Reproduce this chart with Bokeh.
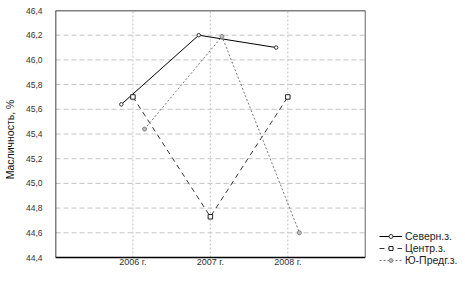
from bokeh.plotting import figure
from bokeh.models import FixedTicker, Legend, LegendItem, Range1d
from bokeh.embed import file_html
from bokeh.resources import INLINE

years = ["2006 г.", "2007 г.", "2008 г."]
series_names = ["Северн.з.", "Центр.з.", "Ю-Предг.з."]
sever = [45.64, 46.20, 46.10]
centr = [45.70, 44.73, 45.70]
yupred = [45.44, 46.19, 44.60]
y_ticks = [44.4, 44.6, 44.8, 45.0, 45.2, 45.4, 45.6, 45.8, 46.0, 46.2, 46.4]
offsets = [-0.15, 0.0, 0.15]

FONT = "Liberation Sans"
NARROW = "'Liberation Sans Narrow', 'Liberation Sans'"

W, H = 465, 281
LEFT, TOP = 52, 10
BOX_RIGHT, BOX_BOTTOM, FRAME_BOTTOM = 364, 257, 268

x_lo, x_hi = 0, len(years) + 1
x_end = x_hi * (W - LEFT) / (BOX_RIGHT - LEFT)
y_lo, y_hi = y_ticks[0], y_ticks[-1]
y_start = y_lo - (FRAME_BOTTOM - BOX_BOTTOM) / (BOX_BOTTOM - TOP) * (y_hi - y_lo)

p = figure(width=W, height=H, output_backend="svg", toolbar_location=None,
           x_range=Range1d(x_lo, x_end), y_range=Range1d(y_start, y_hi),
           min_border_left=LEFT, min_border_top=TOP, min_border_right=0,
           min_border_bottom=H - FRAME_BOTTOM)

base = list(range(1, len(years) + 1))

def xs(off):
    return [b + off for b in base]

# grid lines inside the box
p.segment(x0=[x_lo] * (len(y_ticks) - 2), x1=[x_hi] * (len(y_ticks) - 2),
          y0=y_ticks[1:-1], y1=y_ticks[1:-1], line_color="#c4c4c4", line_dash="5 3", line_width=1)
p.segment(x0=base, x1=base, y0=[y_lo] * len(base), y1=[y_hi] * len(base),
          line_color="#c4c4c4", line_dash="2 2", line_width=1)
# box border
p.segment(x0=[x_lo, x_lo, x_lo], x1=[x_hi, x_hi, x_lo], y0=[y_hi, y_lo, y_lo], y1=[y_hi, y_lo, y_hi],
          line_color="black", line_width=1.5)
p.segment(x0=[x_hi], x1=[x_hi], y0=[y_lo], y1=[y_hi], line_color="#666666", line_width=1)

r1 = p.line(xs(offsets[0]), sever, line_color="black", line_width=1)
m1 = p.scatter(xs(offsets[0]), sever, marker="circle", size=3.5, line_color="#333333", fill_color="white")
r2 = p.line(xs(offsets[1]), centr, line_color="#333333", line_width=1, line_dash="5 4")
m2 = p.scatter(xs(offsets[1]), centr, marker="square", size=4.5, line_color="#222222", fill_color="white")
r3 = p.line(xs(offsets[2]), yupred, line_color="#777777", line_width=1, line_dash="2 2")
m3 = p.scatter(xs(offsets[2]), yupred, marker="circle", size=4, line_color="#888888", fill_color="#bbbbbb")

p.xaxis.ticker = FixedTicker(ticks=base)
p.xaxis.major_label_overrides = {b: y for b, y in zip(base, years)}
p.yaxis.ticker = FixedTicker(ticks=y_ticks)
p.yaxis.major_label_overrides = {t: f"{t:.1f}".replace(".", ",") for t in y_ticks}

for ax in (p.xaxis[0], p.yaxis[0]):
    ax.major_tick_line_color = None
    ax.minor_tick_line_color = None
    ax.major_tick_out = 0
    ax.major_tick_in = 0
    ax.axis_line_color = None
    ax.major_label_text_color = "#333333"

p.xaxis.major_label_text_font = FONT
p.xaxis.major_label_text_font_size = "9px"
p.xaxis.major_label_standoff = -12
p.yaxis.major_label_text_font = NARROW
p.yaxis.major_label_text_font_size = "8.5px"
p.yaxis.major_label_standoff = 13
p.yaxis.axis_label = "Масличность, %"
p.yaxis.axis_label_text_font = FONT
p.yaxis.axis_label_text_font_size = "10.5px"
p.yaxis.axis_label_text_font_style = "normal"
p.yaxis.axis_label_text_color = "#111111"
p.yaxis.axis_label_standoff = 7

p.xgrid.grid_line_color = None
p.ygrid.grid_line_color = None
p.outline_line_color = None

legend = Legend(items=[
    LegendItem(label=series_names[0], renderers=[r1, m1]),
    LegendItem(label=series_names[1], renderers=[r2, m2]),
    LegendItem(label=series_names[2], renderers=[r3, m3]),
], location=(376 - LEFT, 2), background_fill_alpha=0, border_line_color=None,
    label_text_font=FONT, label_text_font_size="10.5px", label_text_color="#222222",
    glyph_width=23, glyph_height=10, label_height=10, spacing=0, padding=0, margin=0,
    label_standoff=3)
p.add_layout(legend, "center")

open("out.html", "w").write(file_html(p, INLINE))
